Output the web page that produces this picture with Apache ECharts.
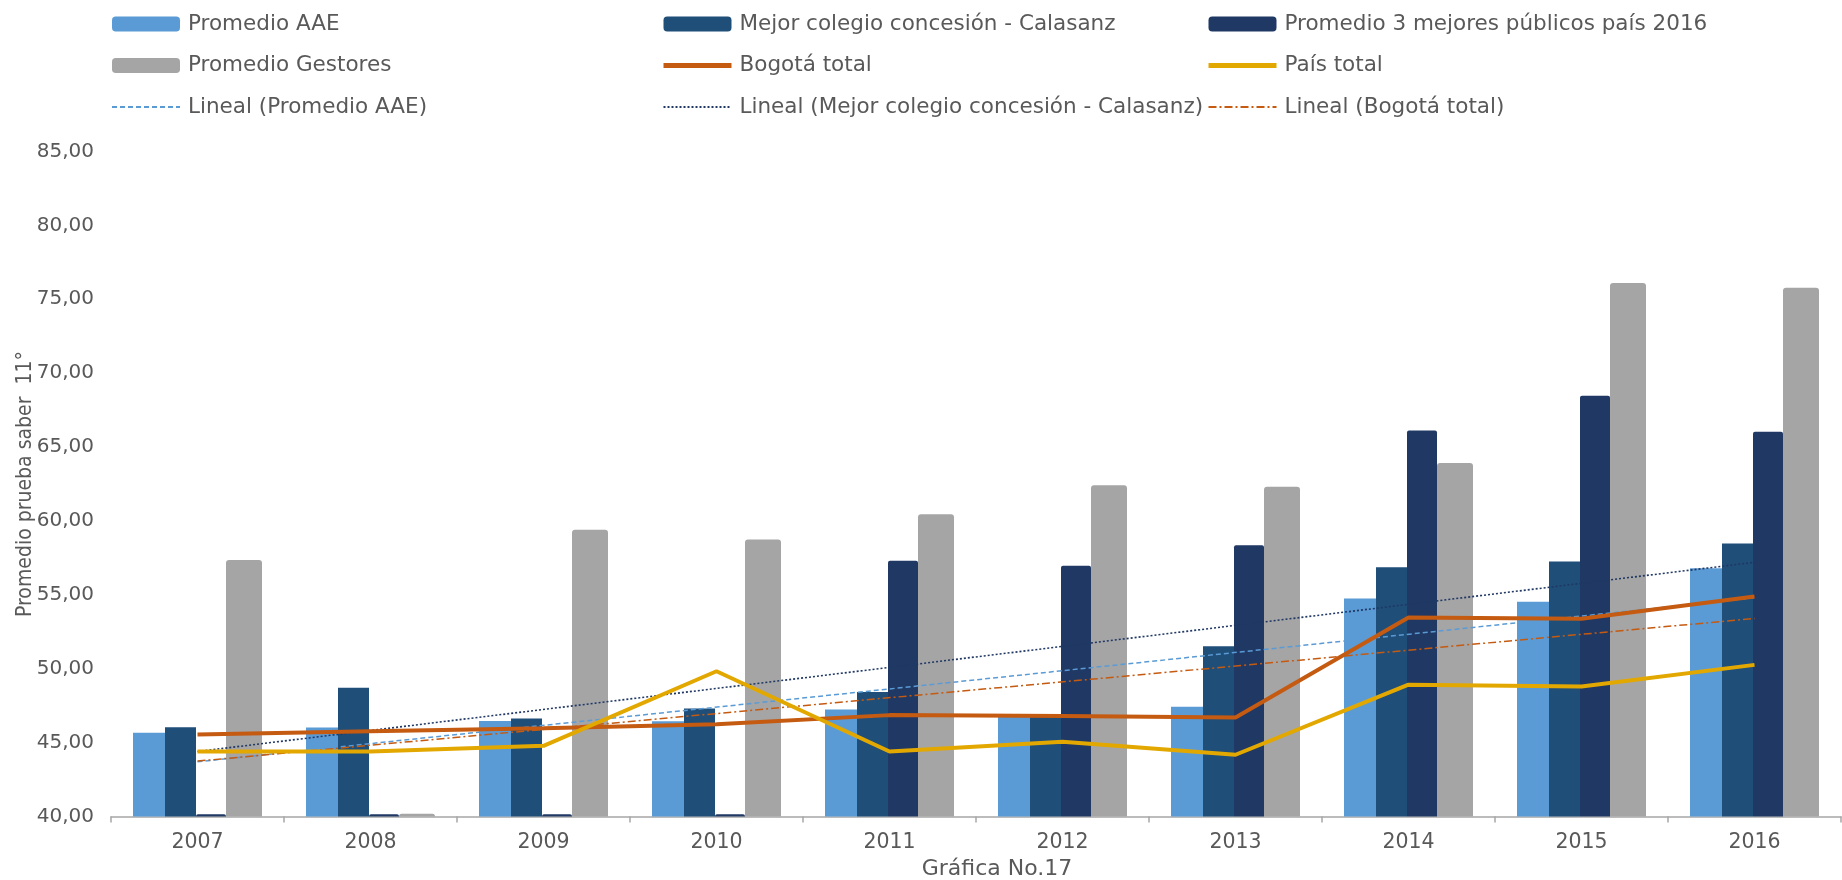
<!DOCTYPE html>
<html>
<head>
<meta charset="utf-8">
<script src="https://cdn.jsdelivr.net/npm/echarts@6/dist/echarts.min.js"></script>
<style>
html,body{margin:0;padding:0;background:#fff;}
#chart{width:1842px;height:880px;}
</style>
</head>
<body>
<div id="chart"></div>
<script>
// ---- data ----
const categories = ['2007','2008','2009','2010','2011','2012','2013','2014','2015','2016'];
const promedioAAE = [45.66, 46.02, 46.47, 46.45, 47.24, 46.80, 47.42, 54.75, 54.54, 56.80];
const calasanz    = [46.04, 48.71, 46.63, 47.31, 48.43, 46.85, 51.52, 56.86, 57.25, 58.48];
const mejores3    = [40.15, 40.15, 40.15, 40.15, 57.30, 56.96, 58.35, 66.12, 68.47, 66.04];
const gestores    = [57.35, 40.18, 59.40, 58.75, 60.45, 62.42, 62.32, 63.92, 76.10, 75.78];
const bogota      = [45.55, 45.77, 45.97, 46.24, 46.86, 46.80, 46.70, 53.46, 53.38, 54.88];
const pais        = [44.40, 44.40, 44.78, 49.83, 44.40, 45.06, 44.18, 48.92, 48.79, 50.26];
// trend-line endpoints (first and last year)
const trendAAE      = [43.70, 54.80];
const trendCalasanz = [44.40, 57.20];
const trendBogota   = [43.75, 53.40];
const yTicks = { min: 40, max: 85, interval: 5 };

const names = {
  aae: 'Promedio AAE',
  cal: 'Mejor colegio concesión - Calasanz',
  m3: 'Promedio 3 mejores públicos país 2016',
  gest: 'Promedio Gestores',
  bog: 'Bogotá total',
  pais: 'País total',
  tAae: 'Lineal (Promedio AAE)',
  tCal: 'Lineal (Mejor colegio concesión - Calasanz)',
  tBog: 'Lineal (Bogotá total)'
};

function endpoints(pair) {
  const arr = categories.map(() => null);
  arr[0] = pair[0];
  arr[arr.length - 1] = pair[1];
  return arr;
}

const FONT = 'DejaVu Sans, Verdana, sans-serif';
const TXT = '#595959';

const chart = echarts.init(document.getElementById('chart'), null, {renderer: 'canvas'});

const lineItem = (n, w) => ({name: n, itemStyle: {opacity: 0}, lineStyle: w ? {width: w} : undefined});

function legendCol(left, data) {
  return {
    left: left, top: 13, orient: 'vertical', padding: 0,
    itemWidth: 68, itemHeight: 15, itemGap: 19.5,
    selectedMode: false,
    textStyle: {fontFamily: FONT, fontSize: 21.5, color: TXT, lineHeight: 21, padding: [0,0,0,3]},
    data: data
  };
}

const option = {
  animation: false,
  backgroundColor: '#ffffff',
  legend: [
    legendCol(111, [names.aae, names.gest, lineItem(names.tAae)]),
    legendCol(661, [names.cal, lineItem(names.bog, 5), lineItem(names.tCal)]),
    legendCol(1206, [names.m3, lineItem(names.pais, 5), lineItem(names.tBog)])
  ],
  grid: {left: 111, right: 1, top: 151.5, bottom: 63.5, containLabel: false, outerBoundsMode: 'none'},
  xAxis: {
    type: 'category',
    data: categories,
    boundaryGap: true,
    axisLine: {show: true, lineStyle: {color: '#A6A6A6', width: 1.5}},
    axisTick: {show: true, length: 6, lineStyle: {color: '#A6A6A6', width: 1.5}},
    axisLabel: {fontFamily: FONT, fontSize: 20.5, color: TXT, margin: 16}
  },
  yAxis: {
    type: 'value',
    min: yTicks.min, max: yTicks.max, interval: yTicks.interval,
    name: 'Promedio prueba saber  11°',
    nameLocation: 'middle', nameRotate: 90, nameGap: 75, nameMoveOverlap: false,
    nameTextStyle: {fontFamily: 'DejaVu Sans Condensed, DejaVu Sans, sans-serif', fontSize: 21, color: TXT},
    axisLine: {show: false}, axisTick: {show: false},
    splitLine: {show: false},
    axisLabel: {fontFamily: FONT, fontSize: 20, color: TXT, margin: 17,
      formatter: v => v.toFixed(2).replace('.', ',')}
  },
  graphic: [{
    type: 'text', x: 997, y: 869,
    style: {text: 'Gráfica No.17', align: 'center', verticalAlign: 'middle',
      textAlign: 'center', textVerticalAlign: 'middle',
      font: '22px DejaVu Sans', fill: TXT}
  }],
  series: [
    {name: names.aae, type: 'bar', data: promedioAAE, barGap: '0%', barWidth: 32,
      itemStyle: {color: '#5B9BD5'}, z: 2},
    {name: names.cal, type: 'bar', data: calasanz, barGap: '0%', barWidth: 31,
      itemStyle: {color: '#1F4E79'}, z: 2},
    {name: names.m3, type: 'bar', data: mejores3, barGap: '0%', barWidth: 30,
      itemStyle: {color: '#203864', borderRadius: [2,2,0,0]}, z: 2},
    {name: names.gest, type: 'bar', data: gestores, barGap: '0%', barWidth: 36,
      itemStyle: {color: '#A5A5A5', borderRadius: [3,3,0,0]}, z: 3},
    {name: names.bog, type: 'line', data: bogota, symbol: 'none', z: 6,
      itemStyle: {color: '#C55A11'}, lineStyle: {color: '#C55A11', width: 4}},
    {name: names.pais, type: 'line', data: pais, symbol: 'none', z: 6,
      itemStyle: {color: '#E3A800'}, lineStyle: {color: '#E3A800', width: 4}},
    {name: names.tAae, type: 'line', data: endpoints(trendAAE), connectNulls: true, symbol: 'none', z: 5,
      itemStyle: {color: '#5B9BD5'}, lineStyle: {color: '#5B9BD5', width: 1.5, type: [5, 3]}},
    {name: names.tCal, type: 'line', data: endpoints(trendCalasanz), connectNulls: true, symbol: 'none', z: 5,
      itemStyle: {color: '#203864'}, lineStyle: {color: '#203864', width: 1.6, type: [2, 2]}},
    {name: names.tBog, type: 'line', data: endpoints(trendBogota), connectNulls: true, symbol: 'none', z: 5,
      itemStyle: {color: '#C55A11'}, lineStyle: {color: '#C55A11', width: 1.5, type: [8, 3, 2, 3]}}
  ]
};
chart.setOption(option);
</script>
</body>
</html>
